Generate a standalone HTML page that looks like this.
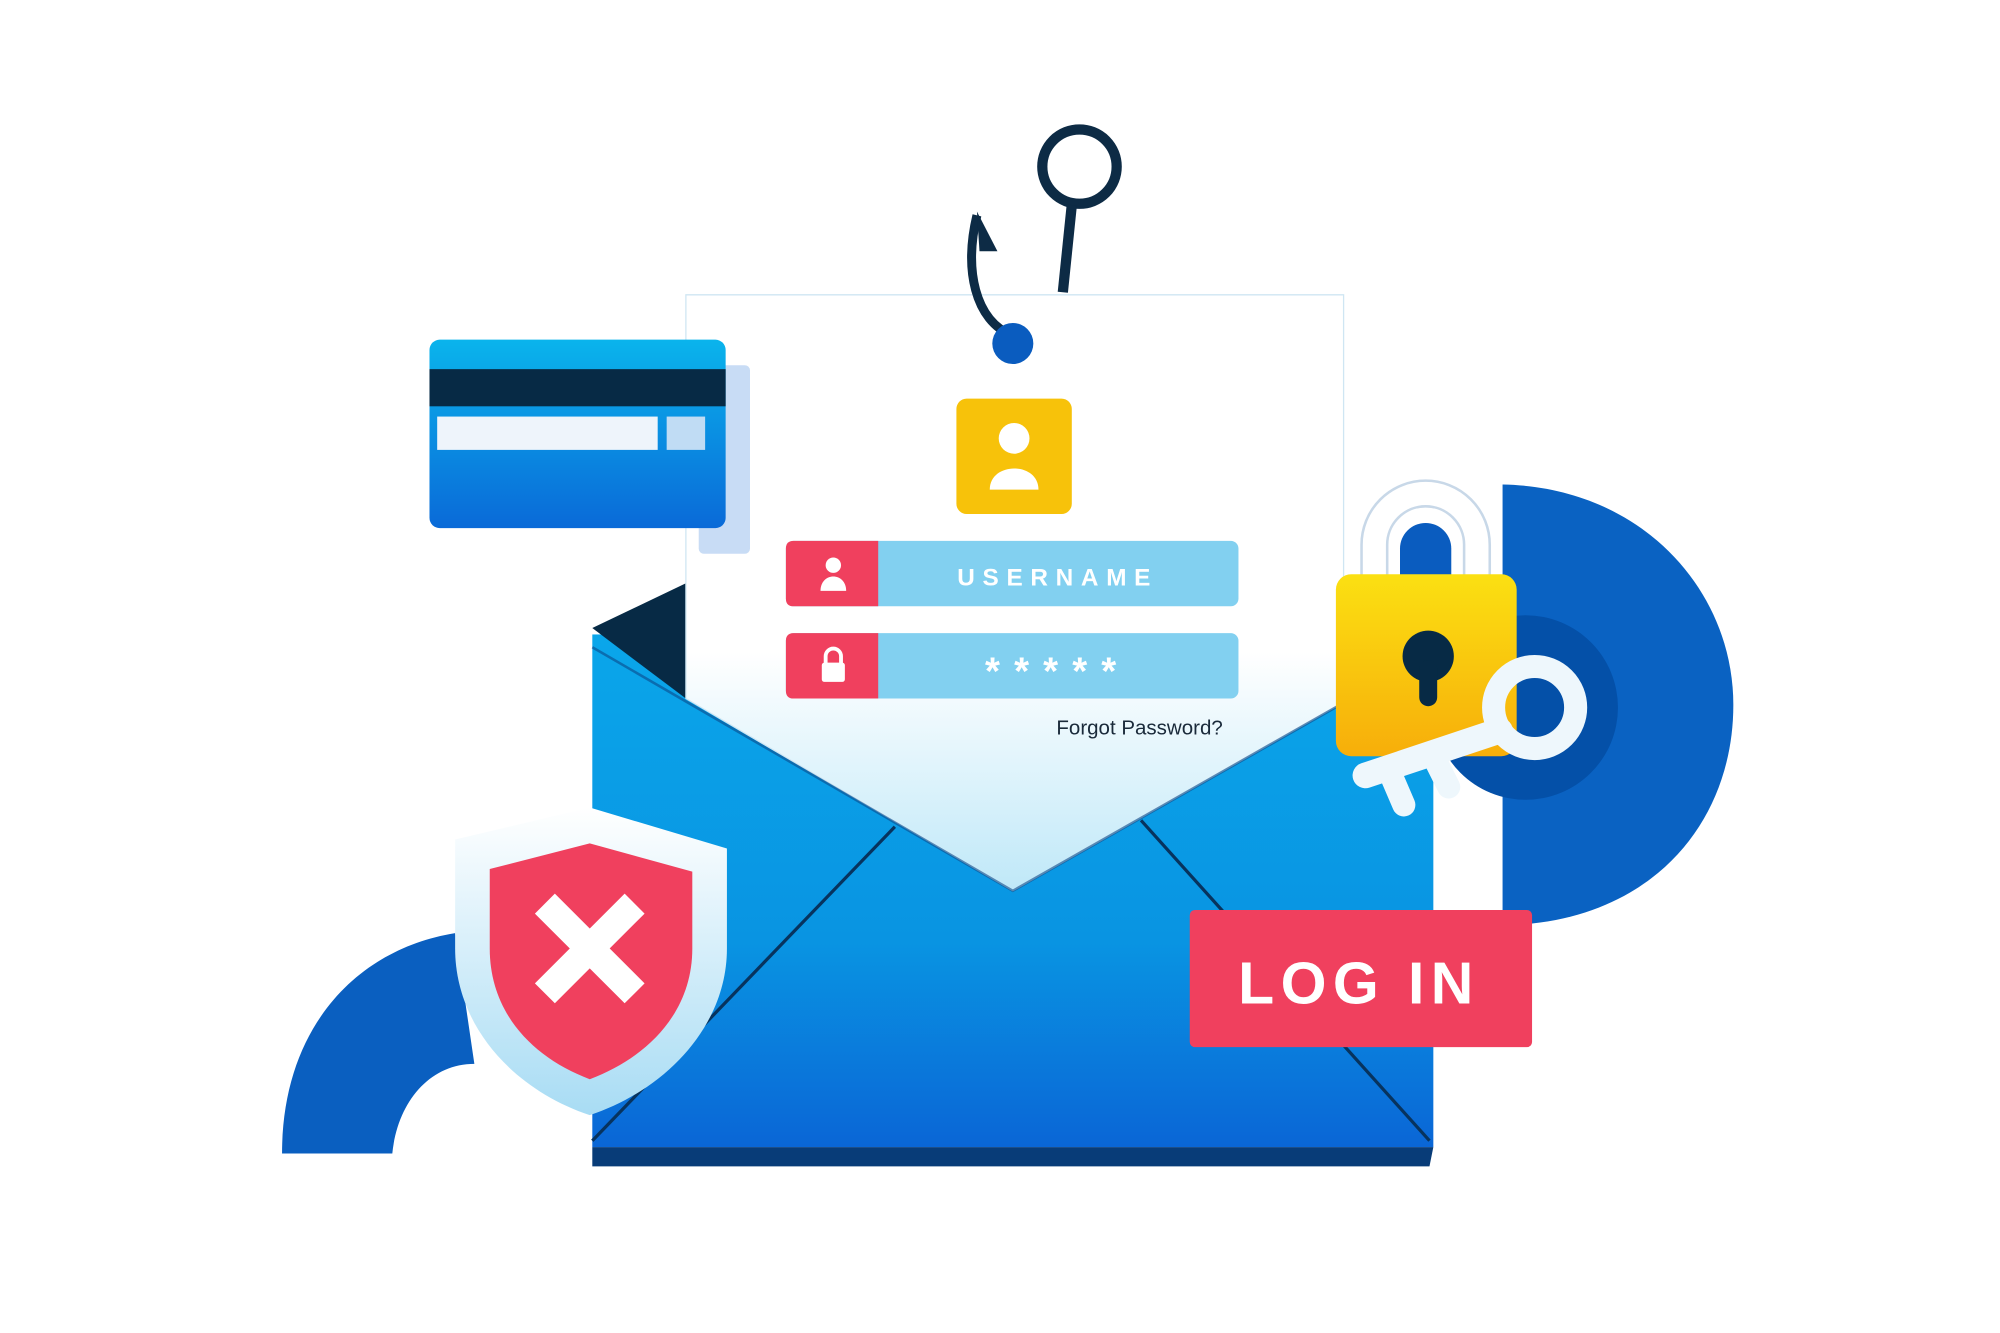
<!DOCTYPE html>
<html><head><meta charset="utf-8"><style>
html,body{margin:0;padding:0;background:#fff;}
svg{display:block;}
</style></head><body>
<svg width="2000" height="1333" viewBox="0 0 1560 1040" preserveAspectRatio="none" xmlns="http://www.w3.org/2000/svg">
<defs>
<linearGradient id="env" x1="0" y1="0" x2="0" y2="1"><stop offset="0" stop-color="#0aa6ea"/><stop offset="0.6" stop-color="#0994e2"/><stop offset="1" stop-color="#0a66d6"/></linearGradient>
<linearGradient id="paper" x1="0" y1="0" x2="0" y2="1"><stop offset="0" stop-color="#fff"/><stop offset="0.6" stop-color="#fff"/><stop offset="1" stop-color="#bfe8f8"/></linearGradient>
<linearGradient id="card" x1="0" y1="0" x2="0" y2="1"><stop offset="0" stop-color="#0ab4ec"/><stop offset="1" stop-color="#0a6ad8"/></linearGradient>
<linearGradient id="lock" x1="0" y1="0" x2="0" y2="1"><stop offset="0" stop-color="#fbe012"/><stop offset="1" stop-color="#f7ae0a"/></linearGradient>
<linearGradient id="shield" x1="0" y1="0" x2="0" y2="1"><stop offset="0" stop-color="#fff"/><stop offset="1" stop-color="#a8dcf4"/></linearGradient>
</defs>
<path d="M1172,378 C1280,380 1352,460 1352,550 C1352,640 1290,720 1172,722 Z" fill="#0a62c2"/>
<circle cx="1190" cy="552" r="72" fill="#0450a8"/>
<path d="M220,900 C220,800 280,740 355,728 L370,830 C335,830 310,860 306,900 Z" fill="#0a5fc0"/>
<rect x="462" y="495" width="656" height="400" fill="url(#env)"/>
<path d="M462,895 L1118,895 L1115,910 L462,910 Z" fill="#083c78"/>
<path d="M462,490 L535,455 L535,545 Z" fill="#072a45"/>
<path d="M535,230 L1048,230 L1048,548 L790,695 L535,545 Z" fill="url(#paper)" stroke="#cfe6f3" stroke-width="1"/>
<path d="M462,505 L790,695 L1045,550" fill="none" stroke="#0a4a8a" stroke-width="2" opacity="0.6"/>
<path d="M462,890 L698,645 M890,640 L1115,890" stroke="#07335e" stroke-width="2.5"/>
<circle cx="842" cy="130" r="29" fill="none" stroke="#0d2b45" stroke-width="8"/>
<path d="M836,160 L829,228" stroke="#0d2b45" stroke-width="8"/>
<path d="M762,168 C752,210 760,250 790,262" fill="none" stroke="#0d2b45" stroke-width="7"/>
<path d="M762,165 L778,196 L764,196 Z" fill="#0d2b45"/>
<circle cx="790" cy="268" r="16" fill="#0a5cbf"/>
<rect x="545" y="285" width="40" height="147" rx="4" fill="#c8dcf5"/>
<rect x="335" y="265" width="231" height="147" rx="8" fill="url(#card)"/>
<rect x="335" y="288" width="231" height="29" fill="#072a45"/>
<rect x="341" y="325" width="172" height="26" fill="#eef4fb"/>
<rect x="520" y="325" width="30" height="26" fill="#c0dcf4"/>
<rect x="746" y="311" width="90" height="90" rx="8" fill="#f7c20a"/>
<circle cx="791" cy="342" r="12" fill="#fff"/>
<path d="M772,382 C772,360 810,360 810,382 Z" fill="#fff"/>
<rect x="613" y="422" width="353" height="51" rx="6" fill="#82d0f0"/>
<path d="M619,422 L685,422 L685,473 L619,473 Q613,473 613,467 L613,428 Q613,422 619,422 Z" fill="#f0405e"/>
<circle cx="650" cy="441" r="6" fill="#fff"/><path d="M640,461 C640,446 660,446 660,461 Z" fill="#fff"/>
<text x="825" y="457" text-anchor="middle" font-family="Liberation Sans, sans-serif" font-size="19" font-weight="bold" letter-spacing="6" fill="#fff">USERNAME</text>
<rect x="613" y="494" width="353" height="51" rx="6" fill="#82d0f0"/>
<path d="M619,494 L685,494 L685,545 L619,545 Q613,545 613,539 L613,500 Q613,494 619,494 Z" fill="#f0405e"/>
<path d="M644,518 L644,512 A6,6 0 0 1 656,512 L656,518" fill="none" stroke="#fff" stroke-width="3"/>
<rect x="641" y="517" width="18" height="15" rx="2" fill="#fff"/>
<text x="825" y="534" text-anchor="middle" font-family="Liberation Sans, sans-serif" font-size="30" font-weight="bold" letter-spacing="11" fill="#fff">*****</text>
<text x="824" y="573" font-family="Liberation Sans, sans-serif" font-size="16" fill="#1a2a3a">Forgot Password?</text>
<path d="M355,655 L460,630 L567,662 L567,740 C567,800 520,850 460,870 C400,850 355,800 355,740 Z" fill="url(#shield)"/>
<path d="M382,678 L460,658 L540,680 L540,740 C540,790 505,825 460,842 C415,825 382,790 382,740 Z" fill="#f0405e"/>
<path d="M425,705 L495,775 M495,705 L425,775" stroke="#fff" stroke-width="22"/>
<path d="M1092,450 L1092,428 A20,20 0 0 1 1132,428 L1132,450 Z" fill="#0a5cbf"/>
<path d="M1072,450 L1072,425 A40,40 0 0 1 1152,425 L1152,450" fill="none" stroke="#c8d8e8" stroke-width="22"/>
<path d="M1072,450 L1072,425 A40,40 0 0 1 1152,425 L1152,450" fill="none" stroke="#fff" stroke-width="18"/>
<rect x="1042" y="448" width="141" height="142" rx="12" fill="url(#lock)"/>
<circle cx="1114" cy="512" r="20" fill="#072a45"/>
<rect x="1107" y="515" width="14" height="36" rx="7" fill="#072a45"/>
<circle cx="1197" cy="552" r="32" fill="none" stroke="#eef7fc" stroke-width="18"/>
<path d="M1170,570 L1065,605" stroke="#eef7fc" stroke-width="20" stroke-linecap="round"/>
<path d="M1083,600 L1095,628 M1118,590 L1130,614" stroke="#eef7fc" stroke-width="18" stroke-linecap="round"/>
<rect x="928" y="710" width="267" height="107" rx="4" fill="#f0405e"/>
<text x="1060" y="783" text-anchor="middle" font-family="Liberation Sans, sans-serif" font-size="46" font-weight="bold" letter-spacing="5" fill="#fff">LOG IN</text>
</svg>
</body></html>
